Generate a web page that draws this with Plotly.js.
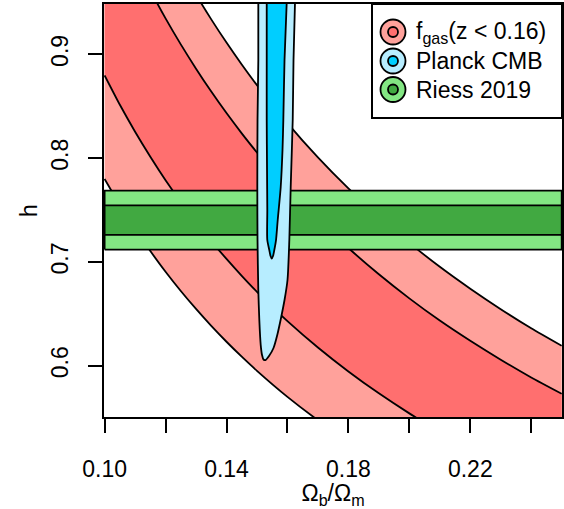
<!DOCTYPE html>
<html>
<head>
<meta charset="utf-8">
<script src="https://cdn.plot.ly/plotly-3.0.1.min.js"></script>
<style>
html,body{margin:0;padding:0;background:#fff;}
#chart{width:564px;height:509px;}
</style>
</head>
<body>
<div id="chart"></div>
<script>
// ---- data ----
// Omega_b/Omega_m grid for the f_gas band edges
const fgasX = [0.100,0.105,0.110,0.115,0.120,0.125,0.130,0.135,0.140,0.145,0.150,0.160,0.170,0.180,0.190,0.200,0.210,0.220,0.230,0.240,0.250];
// outer (2 sigma) upper edge
const fgasOuterHi = [1.1405,1.1039,1.0703,1.0391,1.0098,0.9828,0.9575,0.9337,0.9113,0.8902,0.8703,0.8337,0.8007,0.7708,0.7435,0.7184,0.6953,0.6742,0.6545,0.6361,0.6192];
// inner (1 sigma) upper edge
const fgasInnerHi = [1.0556,1.0217,0.9906,0.9617,0.9346,0.9096,0.8862,0.8641,0.8434,0.8239,0.8055,0.7716,0.7411,0.7134,0.6881,0.6649,0.6435,0.6240,0.6058,0.5887,0.5730];
// inner (1 sigma) lower edge
const fgasInnerLo = [0.8797,0.8514,0.8255,0.8014,0.7788,0.7580,0.7385,0.7201,0.7029,0.6866,0.6712,0.6430,0.6176,0.5945,0.5734,0.5541,0.5363,0.5200,0.5048,0.4906,0.4775];
// outer (2 sigma) lower edge
const fgasOuterLo = [0.7799,0.7548,0.7318,0.7105,0.6905,0.6720,0.6547,0.6384,0.6231,0.6087,0.5951,0.5700,0.5475,0.5270,0.5084,0.4912,0.4754,0.4610,0.4476,0.4350,0.4234];

// Planck CMB contours (closed outlines)
const planckOuterX = [0.15044,0.15044,0.15018,0.15011,0.15018,0.15044,0.15077,0.15123,0.15166,0.15215,0.15280,0.15395,0.15543,0.15674,0.15789,0.15904,0.16002,0.16062,0.16107,0.16173,0.16199,0.16248];
const planckOuterY = [0.9500,0.8945,0.8367,0.7722,0.7211,0.6729,0.6440,0.6199,0.6103,0.6060,0.6055,0.6094,0.6171,0.6306,0.6460,0.6633,0.6826,0.7211,0.7722,0.8367,0.8945,0.9500];
const planckInnerX = [0.15320,0.15320,0.15320,0.15330,0.15339,0.15339,0.15405,0.15445,0.15484,0.15527,0.15569,0.15625,0.15681,0.15779,0.15838,0.15865,0.15904,0.15976];
const planckInnerY = [0.9500,0.8945,0.8367,0.7885,0.7500,0.7211,0.7115,0.7057,0.7033,0.7057,0.7115,0.7211,0.7404,0.7722,0.8078,0.8367,0.8945,0.9500];

// Riess 2019: h = 0.7403 +/- 0.0142 (1 and 2 sigma bands)
const riessOuter = [0.7119, 0.7687];
const riessInner = [0.7261, 0.7545];

const xLim = [0.10, 0.25];

// tick labels
const xTickVals = [0.10, 0.14, 0.18, 0.22];
const xTickText = ['0.10', '0.14', '0.18', '0.22'];
const yTickVals = [0.6, 0.7, 0.8, 0.9];
const yTickText = ['0.6', '0.7', '0.8', '0.9'];

// legend entries
const legendLabels = ['f<sub>gas</sub>(z &lt; 0.16)', 'Planck CMB', 'Riess 2019'];

// ---- colours ----
const redLight = 'rgb(255,161,155)', redDark = 'rgb(255,111,111)';
const blueLight = 'rgb(183,237,255)', blueDark = 'rgb(0,206,255)';
const greenLight = 'rgb(131,230,131)', greenDark = 'rgb(65,169,65)';
const legendColors = [[redLight, redDark],[blueLight, blueDark],[greenLight, greenDark]];

const rev = a => a.slice().reverse();
const traces = [];
// f_gas bands
traces.push({x: fgasX.concat(rev(fgasX)), y: fgasOuterHi.concat(rev(fgasOuterLo)), mode:'lines', fill:'toself', fillcolor: redLight, line:{width:0, color:redLight}, hoverinfo:'skip'});
traces.push({x: fgasX.concat(rev(fgasX)), y: fgasInnerHi.concat(rev(fgasInnerLo)), mode:'lines', fill:'toself', fillcolor: redDark, line:{width:0, color:redDark}, hoverinfo:'skip'});
[fgasOuterHi, fgasInnerHi, fgasInnerLo, fgasOuterLo].forEach(yy => {
  traces.push({x: fgasX, y: yy, mode:'lines', line:{color:'black', width:1.8, shape:'spline', smoothing:0.6}, hoverinfo:'skip'});
});
// Riess bands
[[riessOuter, greenLight],[riessInner, greenDark]].forEach(([b, c]) => {
  traces.push({x:[xLim[0], xLim[1], xLim[1], xLim[0], xLim[0]], y:[b[0], b[0], b[1], b[1], b[0]], mode:'lines', fill:'toself', fillcolor:c, line:{color:'black', width:1.8}, hoverinfo:'skip'});
});
// Planck contours
traces.push({x: planckOuterX, y: planckOuterY, mode:'lines', fill:'toself', fillcolor: blueLight, line:{color:'black', width:1.8, shape:'spline', smoothing:0.7}, hoverinfo:'skip'});
traces.push({x: planckInnerX, y: planckInnerY, mode:'lines', fill:'toself', fillcolor: blueDark, line:{color:'black', width:1.8, shape:'spline', smoothing:0.7}, hoverinfo:'skip'});

// ---- legend (drawn box) ----
const L = 104, R = 2, T = 4, B = 92, W = 564, H = 509;
const pw = W - L - R, ph = H - T - B;
const px2paper = px => (px - L) / pw;
const py2paper = py => (H - B - py) / ph;
const shapes = [{type:'rect', xref:'paper', yref:'paper', x0: px2paper(372), x1: 1, y0: py2paper(118), y1: 1, fillcolor:'white', line:{color:'black', width:2}, layer:'above'}];
const annotations = [];
const rowY = [32, 61, 89.5];
legendLabels.forEach((lab, i) => {
  const xa = px2paper(393), ya = py2paper(rowY[i]);
  shapes.push({type:'circle', xref:'paper', yref:'paper', xsizemode:'pixel', ysizemode:'pixel', xanchor:xa, yanchor:ya, x0:-12.5, x1:12.5, y0:-12.5, y1:12.5, fillcolor: legendColors[i][0], line:{color:'black', width:1.8}, layer:'above'});
  shapes.push({type:'circle', xref:'paper', yref:'paper', xsizemode:'pixel', ysizemode:'pixel', xanchor:xa, yanchor:ya, x0:-5, x1:5, y0:-5, y1:5, fillcolor: legendColors[i][1], line:{color:'black', width:1.8}, layer:'above'});
  annotations.push({xref:'paper', yref:'paper', x: px2paper(414), y: ya, xanchor:'left', yanchor:'middle', text: lab, showarrow:false, font:{size:23, color:'black'}});
});

const font = {family:'"Liberation Sans", Arial, Helvetica, sans-serif', size:23, color:'black'};
const layout = {
  width: W, height: H,
  margin: {l:L, r:R, t:T, b:B, pad:0},
  paper_bgcolor:'white', plot_bgcolor:'white',
  font: font,
  showlegend:false,
  xaxis: {range:[0.0998, 0.2501], showgrid:false, zeroline:false, showline:true, mirror:true, linecolor:'black', linewidth:2,
          ticks:'outside', ticklen:14, tickwidth:2, tickcolor:'black',
          tickmode:'array', tickvals:xTickVals, ticktext:xTickText,
          minor:{tickmode:'linear', tick0:0.10, dtick:0.02, ticks:'outside', ticklen:14, tickwidth:2, tickcolor:'black', showgrid:false},
          ticklabelstandoff: 16, tickfont:{size:23},
          title:{text:'Ω<sub>b</sub>/Ω<sub>m</sub>', font:{size:23}, standoff: 3}},
  yaxis: {range:[0.5506, 0.9485], showgrid:false, zeroline:false, showline:true, mirror:true, linecolor:'black', linewidth:2,
          ticks:'outside', ticklen:14, tickwidth:2, tickcolor:'black',
          tickmode:'array', tickvals:yTickVals, ticktext:yTickText, tickangle:-90,
          ticklabelstandoff: 11, tickfont:{size:23},
          title:{text:'h', font:{size:23}, standoff: 3}},
  shapes: shapes,
  annotations: annotations
};
Plotly.newPlot('chart', traces, layout, {displayModeBar:false, staticPlot:true});
</script>
</body>
</html>
